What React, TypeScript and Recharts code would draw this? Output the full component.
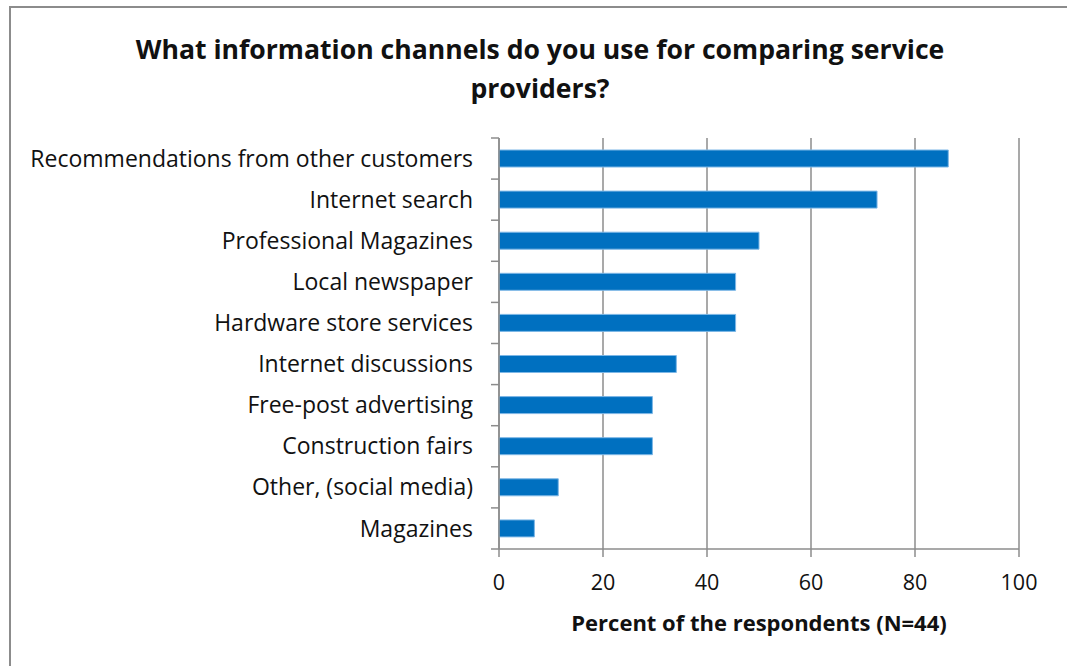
import React from "react";
import { BarChart, Bar, XAxis, YAxis, CartesianGrid } from "recharts";

const categories = [
  "Recommendations from other customers",
  "Internet search",
  "Professional Magazines",
  "Local newspaper",
  "Hardware store services",
  "Internet discussions",
  "Free-post advertising",
  "Construction fairs",
  "Other, (social media)",
  "Magazines",
];
const percents = [86.4, 72.7, 50, 45.5, 45.5, 34.1, 29.5, 29.5, 11.4, 6.8];
const xTicks = [0, 20, 40, 60, 80, 100];

const data = categories.map((c, i) => ({ name: c, value: percents[i] }));

const FONT = "'Open Sans', sans-serif";
const GRID = "#8c8c8c";

const YTick = (props: any) => {
  const { x, y, payload, index, visibleTicksCount } = props;
  const off = payload && payload.offset ? payload.offset : 20.55;
  return (
    <g>
      <line x1={x - 8} x2={x} y1={y - off} y2={y - off} stroke={GRID} strokeWidth={1.5} />
      {index === visibleTicksCount - 1 && (
        <line x1={x - 8} x2={x} y1={y + off} y2={y + off} stroke={GRID} strokeWidth={1.5} />
      )}
      <text x={x - 26} y={y} dy="0.35em" textAnchor="end" fontFamily={FONT} fontSize={23} fill="#111">
        {payload.value}
      </text>
    </g>
  );
};

export default function App() {
  return (
    <div style={{ position: "fixed", left: 0, top: 0, width: 1067, height: 666, overflow: "hidden", background: "#fff" }}>
      <div
        style={{
          position: "absolute",
          left: 9,
          top: 6,
          width: 1100,
          height: 700,
          border: "2px solid #8c8c8c",
          boxSizing: "border-box",
        }}
      />
      <div
        style={{
          position: "absolute",
          left: 0,
          top: 30,
          width: 1080,
          textAlign: "center",
          fontFamily: FONT,
          fontWeight: "bold",
          fontSize: 26.6,
          lineHeight: "39px",
          color: "#111",
        }}
      >
        What information channels do you use for comparing service
        <br />
        providers?
      </div>
      <div style={{ position: "absolute", left: 0, top: 0 }}>
        <BarChart
          width={1067}
          height={666}
          data={data}
          layout="vertical"
          margin={{ top: 138, right: 48, bottom: 27, left: 0 }}
          barSize={17}
        >
          <CartesianGrid horizontal={false} vertical={true} stroke={GRID} strokeWidth={1.5} />
          <XAxis
            type="number"
            domain={[0, 100]}
            ticks={xTicks}
            height={90}
            axisLine={{ stroke: GRID, strokeWidth: 1.5 }}
            tickLine={{ stroke: GRID, strokeWidth: 1.5 }}
            tickSize={8}
            tickMargin={18}
            tick={{ fontFamily: FONT, fontSize: 21.5, fill: "#111" }}
            label={{
              value: "Percent of the respondents (N=44)",
              position: "insideBottom",
              offset: 8,
              style: { fontFamily: FONT, fontSize: 22, fontWeight: "bold", fill: "#111" },
            }}
          />
          <YAxis
            type="category"
            dataKey="name"
            width={499}
            axisLine={{ stroke: GRID, strokeWidth: 1.5 }}
            tickLine={false}
            tickSize={0}
            tickMargin={0}
            tick={<YTick />}
            interval={0}
          />
          <Bar dataKey="value" fill="#0070C0" stroke="#7db7e6" strokeWidth={1} isAnimationActive={false} />
        </BarChart>
      </div>
    </div>
  );
}
